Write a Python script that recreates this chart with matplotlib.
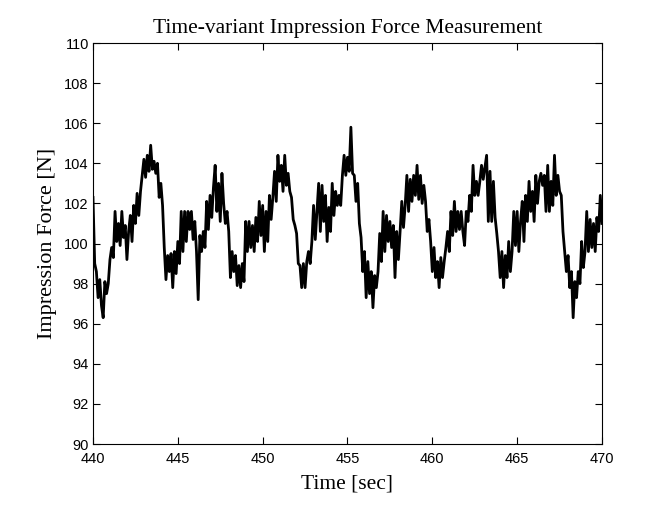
import numpy as np
import matplotlib
matplotlib.use("Agg")
import matplotlib.pyplot as plt

t_start = 440.0
t_end = 470.0
force = [
    102.3, 99.0, 98.6, 97.3, 98.2, 96.9, 96.3, 98.1, 97.5, 98.0,
    99.2, 99.8, 99.3, 101.6, 100.1, 101.0, 99.9, 101.6, 100.3, 100.9,
    99.2, 100.6, 101.4, 100.1, 101.9, 101.0, 102.5, 101.4, 102.6, 103.4,
    104.2, 103.3, 104.4, 103.6, 104.9, 103.7, 104.1, 103.5, 104.0, 102.3,
    103.0, 101.9, 99.8, 98.2, 99.4, 98.6, 99.5, 97.8, 99.6, 98.5,
    100.1, 99.0, 101.6, 99.6, 101.6, 100.1, 101.6, 100.7, 101.6, 100.2,
    101.1, 99.6, 97.2, 100.4, 99.6, 100.6, 99.8, 102.1, 100.7, 102.4,
    101.3, 102.8, 103.9, 101.6, 103.0, 101.1, 103.5, 102.0, 101.0, 101.6,
    100.6, 98.3, 99.6, 98.6, 99.4, 97.9, 98.9, 97.8, 99.0, 98.1,
    101.1, 99.6, 101.1, 99.8, 100.9, 99.6, 101.3, 100.1, 102.1, 100.4,
    101.9, 99.6, 101.6, 100.1, 102.4, 101.2, 102.3, 103.6, 102.1, 104.4,
    103.1, 103.9, 102.6, 104.4, 102.9, 103.5, 102.6, 102.3, 101.2, 100.9,
    100.5, 99.0, 98.9, 97.8, 99.0, 97.8, 99.1, 99.6, 99.0, 100.1,
    101.9, 100.2, 101.6, 103.0, 100.6, 102.9, 101.1, 102.4, 100.1, 101.8,
    100.6, 103.0, 101.4, 102.6, 101.9, 102.4, 101.9, 103.4, 104.4, 103.4,
    104.3, 103.6, 105.8, 103.5, 103.4, 102.1, 103.0, 101.0, 100.3, 98.6,
    99.6, 97.3, 99.1, 97.5, 98.6, 96.8, 98.4, 97.8, 98.6, 100.5,
    99.1, 101.6, 99.6, 101.4, 100.1, 101.1, 99.8, 100.9, 98.3, 100.6,
    99.2, 100.6, 102.1, 100.8, 101.9, 103.4, 101.6, 103.2, 102.1, 103.4,
    102.4, 103.9, 102.2, 103.4, 102.0, 102.9, 102.1, 100.6, 101.2, 100.1,
    98.6, 99.8, 98.3, 99.1, 97.8, 99.3, 98.3, 99.1, 99.8, 100.6,
    99.6, 101.6, 100.4, 102.1, 100.6, 101.6, 100.7, 101.6, 100.6, 99.9,
    101.6, 101.1, 102.4, 101.6, 103.9, 102.4, 103.1, 102.4, 103.1, 103.9,
    103.2, 103.8, 104.4, 101.1, 103.6, 101.1, 103.1, 101.3, 100.5, 99.6,
    98.3, 99.6, 97.8, 99.4, 98.3, 100.1, 98.6, 99.6, 101.6, 99.9,
    101.6, 99.6, 101.1, 102.1, 100.1, 102.4, 101.1, 103.1, 101.6, 102.6,
    101.1, 103.4, 102.0, 103.1, 103.5, 102.9, 103.4, 101.6, 103.9, 101.6,
    103.1, 101.9, 104.4, 102.4, 103.4, 102.6, 102.4, 100.6, 99.6, 98.6,
    99.4, 97.8, 98.6, 96.3, 98.1, 97.3, 98.6, 98.0, 100.1, 98.8,
    99.6, 101.6, 99.6, 101.2, 99.8, 101.0, 99.6, 101.3, 100.6, 102.4,
    101.0,
]
time = np.linspace(t_start, t_end, len(force))

x_ticks = [440, 445, 450, 455, 460, 465, 470]
y_ticks = [90, 92, 94, 96, 98, 100, 102, 104, 106, 108, 110]

fig = plt.figure(figsize=(6.7, 5.12), dpi=100)
ax = fig.add_axes([0.1388, 0.1328, 0.7597, 0.7832])

ax.plot(time, force, color="black", linewidth=2.0)

ax.set_xlim(440, 470)
ax.set_ylim(90, 110)
ax.set_xticks(x_ticks)
ax.set_yticks(y_ticks)
ax.tick_params(direction="in", top=True, right=True, length=5, labelsize=10.5)
ax.tick_params(axis="x", pad=6)
ax.tick_params(axis="y", pad=3)
for lab in ax.get_xticklabels() + ax.get_yticklabels():
    lab.set_fontfamily("Liberation Sans")

ax.set_title("Time-variant Impression Force Measurement", fontsize=15.5,
             family="Liberation Serif", pad=7)
ax.set_xlabel("Time [sec]", fontsize=15.5, family="Liberation Serif", labelpad=6)
ax.set_ylabel("Impression Force [N]", fontsize=16, family="Liberation Serif", labelpad=5)

fig.savefig("out.png", dpi=100)
